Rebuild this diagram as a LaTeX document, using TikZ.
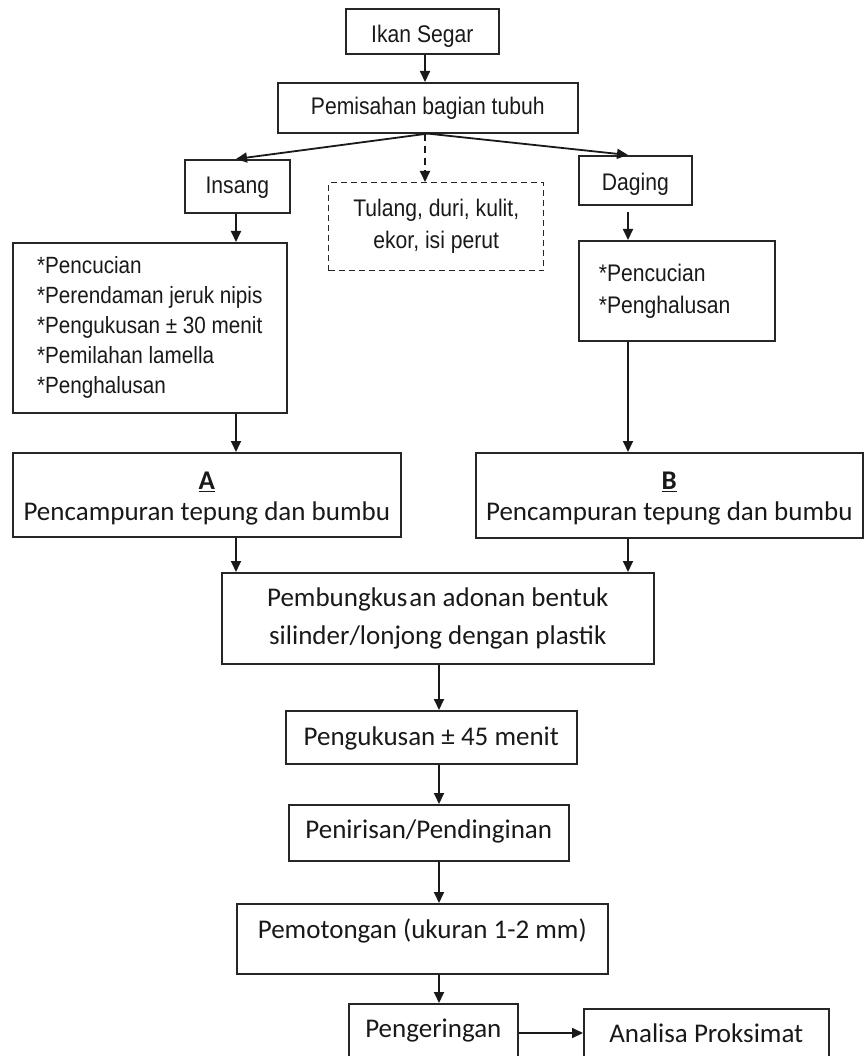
\documentclass[tikz,border=0pt]{standalone}
\usepackage{fontspec}
\setmainfont{Carlito}
\newfontfamily\arialfont{Liberation Sans}[FakeStretch=0.88]
\usetikzlibrary{arrows.meta, positioning}

\tikzset{
  box/.style={draw=black!85, line width=1.6pt, rectangle, inner sep=0pt,
    anchor=north west, text=black!90},
  abox/.style={box, font=\arialfont\fontsize{24}{30}\selectfont},
  cbox/.style={box, font=\fontsize{27}{31}\selectfont},
  flow/.style={-{Triangle[length=11pt,width=10pt]}, line width=1.8pt, draw=black!90},
}

\begin{document}
\begin{tikzpicture}[x=1pt,y=-1pt]
  \useasboundingbox (0,0) rectangle (864,1056);
  % columns and rows the arrows run along
  \coordinate (colT) at (425,0);
  \coordinate (colL) at (236,0);
  \coordinate (colR) at (628,0);
  \coordinate (colM) at (439,0);
  \coordinate (rowE) at (0,1033);

  \node[abox, minimum width=153pt, text height=34pt, text depth=11pt] (ikan) at (345,8) {Ikan Segar};
  \node[abox, minimum width=300pt, text height=32pt, text depth=18pt] (pisah) at (277,82) {Pemisahan bagian tubuh};
  \node[abox, minimum width=105pt, text height=34pt, text depth=19pt] (insang) at (184,159) {Insang};
  \node[abox, minimum width=113pt, text height=35pt, text depth=14pt] (daging) at (578,155) {Daging};
  \node[abox, dash pattern=on 6pt off 4pt, line width=1.4pt, minimum width=215pt, minimum height=88pt,
    align=center, font=\arialfont\fontsize{24}{32}\selectfont] (tulang) at (328,182) {Tulang, duri, kulit,\\ekor, isi perut};

  \node[abox, minimum width=274pt, minimum height=170pt, align=left,
    font=\arialfont\fontsize{23.5}{30}\selectfont] (cuciL) at (12,242)
    {*Pencucian\\{}*Perendaman jeruk nipis\\{}*Pengukusan ± 30 menit\\{}*Pemilahan lamella\\{}*Penghalusan};
  \node[abox, inner xsep=20pt, text width=156pt, minimum height=100pt, align=left,
    font=\arialfont\fontsize{24}{32}\selectfont] (cuciR) at (578,240) {*Pencucian\\{}*Penghalusan};

  \node[cbox, minimum width=388pt, minimum height=84pt, align=center] (campA) at (12,452)
    {\rule{0pt}{25pt}\underline{\textbf{A}}\\Pencampuran tepung dan bumbu};
  \node[cbox, minimum width=387pt, minimum height=85pt, align=center] (campB) at (475,452)
    {\rule{0pt}{25pt}\underline{\textbf{B}}\\Pencampuran tepung dan bumbu};
  \node[cbox, minimum width=432pt, minimum height=91pt, align=center, font=\fontsize{27}{38}\selectfont] (bungkus) at (221,572)
    {Pembungkus\hspace{2pt}an adonan bentuk\\silinder/lonjong dengan plastik};
  \node[cbox, minimum width=291pt, text height=35pt, text depth=18pt] (kukus) at (285,710) {Pengukusan ± 45 menit};
  \node[cbox, minimum width=280pt, text height=34pt, text depth=22pt] (tiris) at (288,804) {Penirisan/Pendinginan};
  \node[cbox, minimum width=371pt, text height=35pt, text depth=35pt] (potong) at (236,903) {Pemotongan (ukuran 1-2 mm)};
  \node[cbox, minimum width=169pt, text height=34pt, text depth=50pt] (kering) at (348,1003) {Pengeringan};
  \node[cbox, minimum width=245pt, text height=34pt, text depth=50pt] (analisa) at (583,1008) {Analisa Proksimat};

  \draw[flow] (colT |- ikan.south) -- (colT |- pisah.north);
  \draw[flow] (pisah.south) -- (colL |- insang.north);
  \draw[flow] (pisah.south) -- (colR |- daging.north);
  \draw[flow, dash pattern=on 7pt off 5pt] (colT |- pisah.south) -- (colT |- tulang.north);
  \draw[flow] (colL |- insang.south) -- (colL |- cuciL.north);
  \draw[flow, shorten <=6pt] (colR |- daging.south) -- (colR |- cuciR.north);
  \draw[flow] (colL |- cuciL.south) -- (colL |- campA.north);
  \draw[flow] (colR |- cuciR.south) -- (colR |- campB.north);
  \draw[flow] (colL |- campA.south) -- (colL |- bungkus.north);
  \draw[flow] (colR |- campB.south) -- (colR |- bungkus.north);
  \draw[flow] (colM |- bungkus.south) -- (colM |- kukus.north);
  \draw[flow] (colM |- kukus.south) -- (colM |- tiris.north);
  \draw[flow] (colM |- tiris.south) -- (colM |- potong.north);
  \draw[flow] (colM |- potong.south) -- (colM |- kering.north);
  \draw[flow] (kering.east |- rowE) -- (analisa.west |- rowE);
\end{tikzpicture}
\end{document}
